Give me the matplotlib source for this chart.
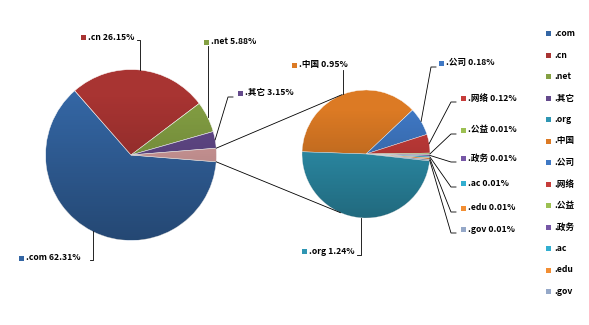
import numpy as np
import matplotlib
matplotlib.use("Agg")
import matplotlib.pyplot as plt
from matplotlib.patches import Circle, Rectangle

plt.rcParams['font.family'] = ['Noto Sans CJK SC', 'DejaVu Sans']

# ---- data ----
main_labels = ['.com', '.cn', '.net', '.其它']
main_values = [62.31, 26.15, 5.88, 3.15]
sub_labels = ['.中国', '.公司', '.网络', '.公益', '.政务', '.ac', '.edu', '.gov', '.org']
sub_values = [0.95, 0.18, 0.12, 0.01, 0.01, 0.01, 0.01, 0.01, 1.24]
legend_order = ['.com', '.cn', '.net', '.其它', '.org', '.中国', '.公司', '.网络',
                '.公益', '.政务', '.ac', '.edu', '.gov']

colors = {
    '.com': '#3466a4', '.cn': '#a83432', '.net': '#84a043', '.其它': '#644a8c',
    '.org': '#2f96b3', '.中国': '#dc7a24', '.公司': '#3f78c4', '.网络': '#c63c3a',
    '.公益': '#9cc052', '.政务': '#7657a6', '.ac': '#32aed0', '.edu': '#f28e33',
    '.gov': '#95a8c8', 'other': '#d9a0a0',
}

W, H = 589, 325
fig = plt.figure(figsize=(W / 100, H / 100), dpi=100)
ax = fig.add_axes([0, 0, 1, 1])
ax.set_xlim(0, W)
ax.set_ylim(0, H)
ax.set_aspect('equal')
ax.axis('off')

def Y(y):
    return H - y

# layout
c1 = (131, Y(155)); r1 = 85.5
c2 = (366, Y(154)); r2 = 64

other_total = sum(sub_values)
vals1 = main_values + [other_total]
cols1 = [colors[l] for l in main_labels] + [colors['other']]
start1 = -(other_total / (sum(vals1))) * 360 / 2
w1, _ = ax.pie(vals1, colors=cols1, center=c1, radius=r1, startangle=start1,
               counterclock=False, frame=True,
               wedgeprops=dict(linewidth=0.4, edgecolor='white'))
start2 = 178
w2, _ = ax.pie(sub_values, colors=[colors[l] for l in sub_labels], center=c2,
               radius=r2, startangle=start2, counterclock=False, frame=True,
               wedgeprops=dict(linewidth=0.3, edgecolor='white'))
ax.set_xlim(0, W)
ax.set_ylim(0, H)
ax.axis('off')

# shading gradient overlay
def shade(c, r):
    n = 256
    t = np.linspace(0, 1, n)[:, None]  # top -> bottom
    img = np.zeros((n, 2, 4))
    a = np.clip((t - 0.15) * 0.35, 0, None)
    img[..., 3] = a
    circ = Circle(c, r, transform=ax.transData)
    im = ax.imshow(img, extent=(c[0] - r, c[0] + r, c[1] - r, c[1] + r),
                   origin='upper', zorder=3, aspect='auto', interpolation='bilinear')
    im.set_clip_path(circ)

shade(c1, r1)
shade(c2, r2)
ax.set_xlim(0, W)
ax.set_ylim(0, H)

def pt(c, r, ang):
    a = np.deg2rad(ang)
    return c[0] + r * np.cos(a), c[1] + r * np.sin(a)

# connector lines between the pies
ang_top = w1[-1].theta2
ang_bot = w1[-1].theta1
p1 = pt(c1, r1, ang_top)
p2 = pt(c1, r1, ang_bot)
q1 = pt(c2, r2, 112)
q2 = pt(c2, r2, -113.5)
ax.plot([p1[0], q1[0]], [p1[1], q1[1]], color='black', lw=0.6, zorder=2)
ax.plot([p2[0], q2[0]], [p2[1], q2[1]], color='black', lw=0.6, zorder=2)

FS = 6.2

def label(text, color, sx, sy, anchor, elbow):
    # square marker + text; leader from slice anchor via elbow to label
    ax.add_patch(Rectangle((sx - 2.5, Y(sy) - 2.5), 5, 5, facecolor=color,
                           edgecolor='none', zorder=5))
    ax.text(sx + 5, Y(sy), text, fontsize=FS, fontweight='bold', va='center',
            ha='left', zorder=5)
    xs = [anchor[0]] + [e[0] for e in elbow]
    ys = [anchor[1]] + [Y(e[1]) for e in elbow]
    ax.plot(xs, ys, color='black', lw=0.6, zorder=4)

def mid(w, r, c):
    return pt(c, r, (w.theta1 + w.theta2) / 2)

# main pie labels
a = mid(w1[0], r1, c1)
label(f'.com {main_values[0]:.2f}%', colors['.com'], 21, 258, a,
      [(a[0], 260), (90, 260)])
a = mid(w1[1], r1, c1)
label(f'.cn {main_values[1]:.2f}%', colors['.cn'], 83, 37, a,
      [(a[0], 40), (137, 40)])
a = mid(w1[2], r1, c1)
label(f'.net {main_values[2]:.2f}%', colors['.net'], 206, 42, a,
      [(a[0], 46)])
a = mid(w1[3], r1, c1)
label(f'.其它 {main_values[3]:.2f}%', colors['.其它'], 240, 93, a,
      [(228, 97), (233, 97)])

# secondary pie labels
a = mid(w2[0], r2, c2)
label(f'.中国 {sub_values[0]:.2f}%', colors['.中国'], 294, 65, a,
      [(a[0], 70)])
a = mid(w2[1], r2, c2)
label(f'.公司 {sub_values[1]:.2f}%', colors['.公司'], 441, 63, a,
      [(431, 67), (436, 67)])
a = mid(w2[8], r2, c2)
label(f'.org {sub_values[8]:.2f}%', colors['.org'], 304, 251, a,
      [(a[0], 255), (357, 255)])
ys = [98, 130, 158, 183, 208, 229]
for i, y in zip(range(2, 8), ys):
    a = mid(w2[i], r2, c2)
    label(f'{sub_labels[i]} {sub_values[i]:.2f}%', colors[sub_labels[i]],
          463, y, a, [(451, y + 4), (456, y + 4)])

# legend
ly0, dy = 33.5, 21.5
for k, name in enumerate(legend_order):
    y = ly0 + k * dy
    ax.add_patch(Rectangle((546, Y(y) - 2.5), 5, 5, facecolor=colors[name],
                           edgecolor='none', zorder=5))
    ax.text(554, Y(y), name, fontsize=FS, fontweight='bold', va='center',
            ha='left', zorder=5)

fig.savefig('out.png', dpi=100, facecolor='white')
